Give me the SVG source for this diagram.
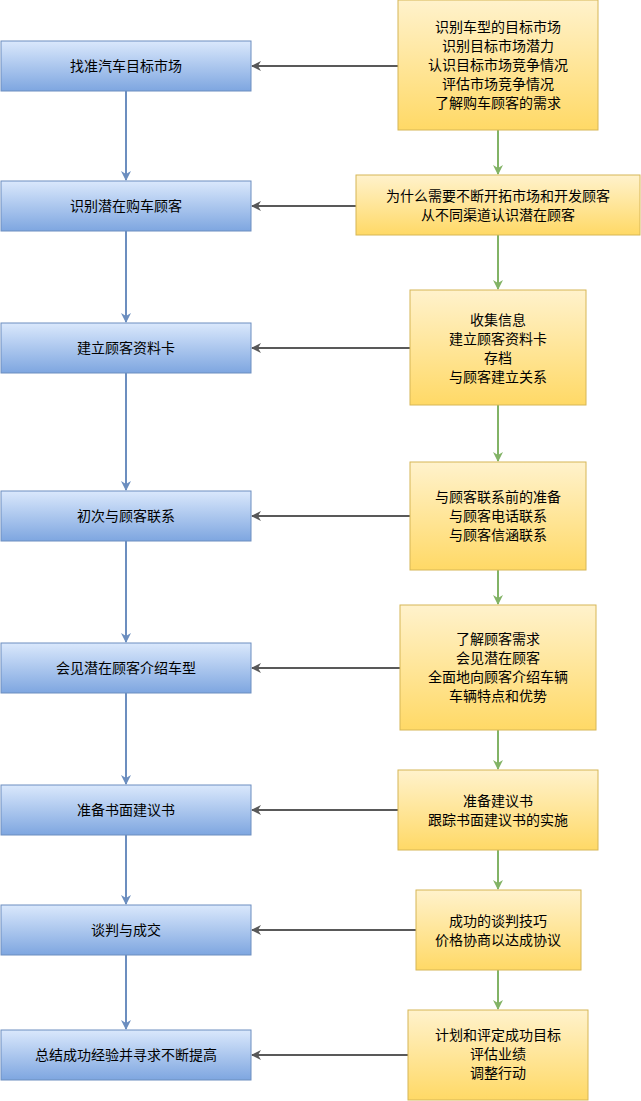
<svg xmlns="http://www.w3.org/2000/svg" width="641" height="1101" viewBox="0 0 641 1101">
<defs>
<linearGradient id="gb" x1="0" y1="0" x2="0" y2="1"><stop offset="0" stop-color="#dae8fc"/><stop offset="1" stop-color="#7ea6e0"/></linearGradient>
<linearGradient id="gy" x1="0" y1="0" x2="0" y2="1"><stop offset="0" stop-color="#fff2cc"/><stop offset="1" stop-color="#ffd966"/></linearGradient>
<marker id="ag" viewBox="0 0 10 10" refX="9" refY="5" markerWidth="10" markerHeight="10" markerUnits="userSpaceOnUse" orient="auto"><path d="M0,0 L10,5 L0,10 L3,5 Z" fill="#595959"/></marker>
<marker id="ab" viewBox="0 0 10 10" refX="9" refY="5" markerWidth="10" markerHeight="10" markerUnits="userSpaceOnUse" orient="auto"><path d="M0,0 L10,5 L0,10 L3,5 Z" fill="#6c8ebf"/></marker>
<marker id="agr" viewBox="0 0 10 10" refX="9" refY="5" markerWidth="10" markerHeight="10" markerUnits="userSpaceOnUse" orient="auto"><path d="M0,0 L10,5 L0,10 L3,5 Z" fill="#82b366"/></marker>
</defs>
<style>
.b{fill:url(#gb);stroke:#6c8ebf}
.y{fill:url(#gy);stroke:#d6b656}
text{font-family:"Liberation Sans","Noto Sans CJK SC",sans-serif;font-size:14px;fill:#000;text-anchor:middle}
.g{stroke:#595959;stroke-width:2;fill:none;marker-end:url(#ag)}
.bl{stroke:#6c8ebf;stroke-width:2;fill:none;marker-end:url(#ab)}
.gr{stroke:#82b366;stroke-width:2;fill:none;marker-end:url(#agr)}
</style>
<g id="connectors">
<path class="g" d="M398 66H252"/><path class="g" d="M356 206H252"/><path class="g" d="M410 348H252"/><path class="g" d="M410 516H252"/><path class="g" d="M400 668H252"/><path class="g" d="M398 810H252"/><path class="g" d="M416 930H252"/><path class="g" d="M408 1055H252"/>
<path class="bl" d="M126 91V180"/><path class="bl" d="M126 231V322"/><path class="bl" d="M126 373V490"/><path class="bl" d="M126 541V642"/><path class="bl" d="M126 693V784"/><path class="bl" d="M126 835V904"/><path class="bl" d="M126 955V1029"/>
<path class="gr" d="M498 130V174"/><path class="gr" d="M498 235V289"/><path class="gr" d="M498 405V461"/><path class="gr" d="M498 570V604"/><path class="gr" d="M498 730V769"/><path class="gr" d="M498 850V889"/><path class="gr" d="M498 970V1009"/>
</g>
<g id="l1"><rect class="b" x="1" y="41" width="250" height="50"/><text x="126" y="71">找准汽车目标市场</text></g>
<g id="l2"><rect class="b" x="1" y="181" width="250" height="50"/><text x="126" y="211">识别潜在购车顾客</text></g>
<g id="l3"><rect class="b" x="1" y="323" width="250" height="50"/><text x="126" y="353">建立顾客资料卡</text></g>
<g id="l4"><rect class="b" x="1" y="491" width="250" height="50"/><text x="126" y="521">初次与顾客联系</text></g>
<g id="l5"><rect class="b" x="1" y="643" width="250" height="50"/><text x="126" y="673">会见潜在顾客介绍车型</text></g>
<g id="l6"><rect class="b" x="1" y="785" width="250" height="50"/><text x="126" y="815">准备书面建议书</text></g>
<g id="l7"><rect class="b" x="1" y="905" width="250" height="50"/><text x="126" y="935">谈判与成交</text></g>
<g id="l8"><rect class="b" x="1" y="1030" width="250" height="50"/><text x="126" y="1060">总结成功经验并寻求不断提高</text></g>
<g id="r1"><rect class="y" x="398" y="0" width="200" height="130"/><text x="498" y="32">识别车型的目标市场</text><text x="498" y="51">识别目标市场潜力</text><text x="498" y="70">认识目标市场竞争情况</text><text x="498" y="89">评估市场竞争情况</text><text x="498" y="108">了解购车顾客的需求</text></g>
<g id="r2"><rect class="y" x="356" y="175" width="284" height="60"/><text x="498" y="201">为什么需要不断开拓市场和开发顾客</text><text x="498" y="220">从不同渠道认识潜在顾客</text></g>
<g id="r3"><rect class="y" x="410" y="290" width="176" height="115"/><text x="498" y="325">收集信息</text><text x="498" y="344">建立顾客资料卡</text><text x="498" y="363">存档</text><text x="498" y="382">与顾客建立关系</text></g>
<g id="r4"><rect class="y" x="410" y="462" width="176" height="108"/><text x="498" y="502">与顾客联系前的准备</text><text x="498" y="521">与顾客电话联系</text><text x="498" y="540">与顾客信涵联系</text></g>
<g id="r5"><rect class="y" x="400" y="605" width="196" height="125"/><text x="498" y="644">了解顾客需求</text><text x="498" y="663">会见潜在顾客</text><text x="498" y="682">全面地向顾客介绍车辆</text><text x="498" y="701">车辆特点和优势</text></g>
<g id="r6"><rect class="y" x="398" y="770" width="200" height="80"/><text x="498" y="806">准备建议书</text><text x="498" y="825">跟踪书面建议书的实施</text></g>
<g id="r7"><rect class="y" x="416" y="890" width="165" height="80"/><text x="498" y="926">成功的谈判技巧</text><text x="498" y="945">价格协商以达成协议</text></g>
<g id="r8"><rect class="y" x="408" y="1010" width="180" height="90"/><text x="498" y="1040">计划和评定成功目标</text><text x="498" y="1059">评估业绩</text><text x="498" y="1078">调整行动</text></g>
</svg>
